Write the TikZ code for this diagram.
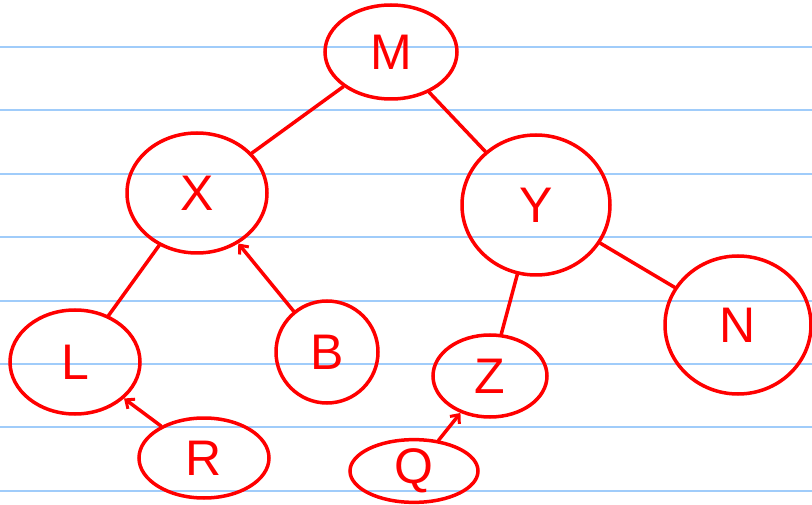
\documentclass[tikz,border=0pt]{standalone}
\usepackage{fontspec}
\setmainfont{Liberation Sans}
\usetikzlibrary{shapes.geometric,arrows.meta}
\definecolor{penred}{RGB}{255,0,0}
\definecolor{ruleblue}{RGB}{160,204,250}
\tikzset{
  nd/.style={ellipse, draw=penred, line width=3.5pt, inner sep=0pt, text=penred,
    font=\fontsize{50}{50}\selectfont},
  edge/.style={draw=penred, line width=3.5pt, line cap=round},
  arr/.style={edge, -{Straight Barb[length=7pt,width=12pt,line width=3pt]}},
  rule/.style={draw=ruleblue, line width=2pt}
}
\begin{document}
\begin{tikzpicture}[x=1pt,y=-1pt]
\useasboundingbox (0,0) rectangle (812,505);
\fill[white] (0,0) rectangle (812,505);
\foreach \k in {0,...,7} {
  \draw[rule] (0,{47+63.4*\k}) -- (812,{47+63.4*\k});
}
\node[nd, minimum width=132pt, minimum height=94pt] (M) at (391,52) {M};
\node[nd, minimum width=140pt, minimum height=120pt] (X) at (197,193) {X};
\node[nd, minimum width=148pt, minimum height=140pt] (Y) at (536,205) {Y};
\node[nd, minimum width=130pt, minimum height=104pt] (L) at (75,362) {L};
\node[nd, minimum width=102pt, minimum height=102pt] (B) at (327,352) {B};
\node[nd, minimum width=114pt, minimum height=82pt] (Z) at (490,376) {Z};
\node[nd, minimum width=146pt, minimum height=138pt] (N) at (738,325) {N};
\node[nd, minimum width=130pt, minimum height=80pt] (R) at (204,458) {R};
\node[nd, minimum width=128pt, minimum height=62pt] (Q) at (414,471) {Q};
\draw[edge] (M) -- (X);
\draw[edge] (M) -- (Y);
\draw[edge] (X) -- (L);
\draw[arr] (B) -- (X);
\draw[edge] (Y) -- (Z);
\draw[edge] (Y) -- (N);
\draw[arr] (R) -- (L);
\draw[arr] (Q) -- (Z);
\end{tikzpicture}
\end{document}
